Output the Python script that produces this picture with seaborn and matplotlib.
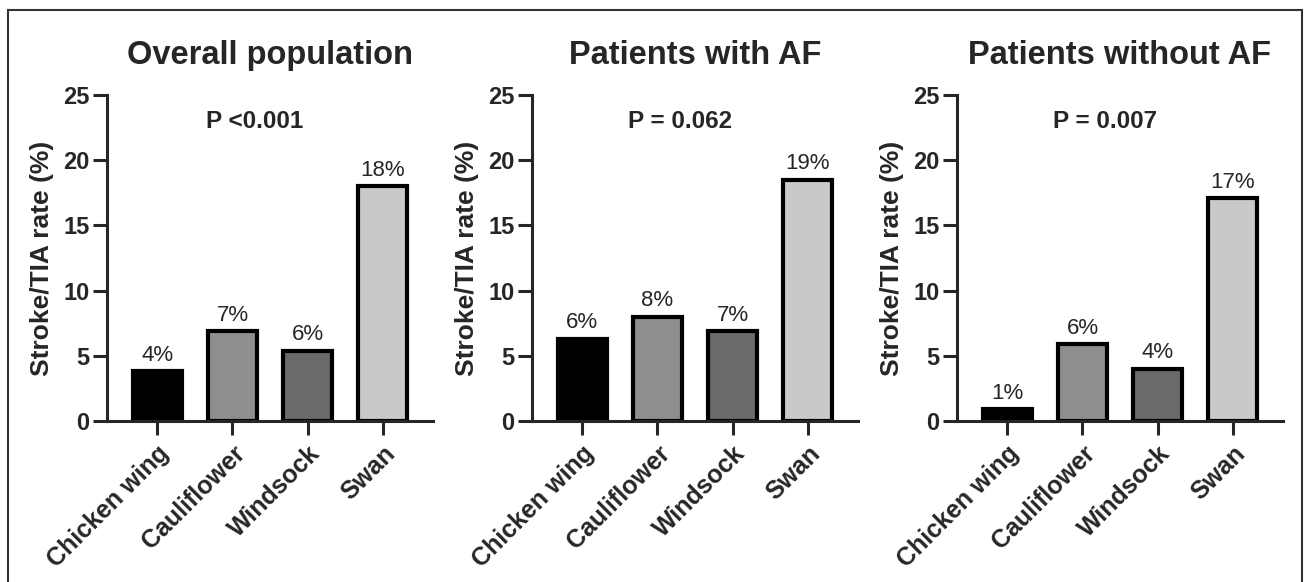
import numpy as np
import pandas as pd
import matplotlib
matplotlib.use("Agg")
import matplotlib.pyplot as plt
from matplotlib.patches import Rectangle
import seaborn as sns

# du lieu doc tu hinh
categories = ["Chicken wing", "Cauliflower", "Windsock", "Swan"]
titles = ["Overall population", "Patients with AF", "Patients without AF"]
p_texts = ["P <0.001", "P = 0.062", "P = 0.007"]
overall_rate = [3.8, 6.9, 5.4, 18.0]
af_rate = [6.3, 8.0, 6.9, 18.5]
no_af_rate = [0.9, 5.9, 4.0, 17.1]
overall_labels = ["4%", "7%", "6%", "18%"]
af_labels = ["6%", "8%", "7%", "19%"]
no_af_labels = ["1%", "6%", "4%", "17%"]
bar_colors = ["#000000", "#8e8e8e", "#6a6a6a", "#c9c9c9"]

sns.set_style("ticks")
plt.rcParams['font.family'] = ['Liberation Sans', 'DejaVu Sans']

fig = plt.figure(figsize=(13.05, 5.82), dpi=100)
W, H = 1305, 582
lefts = [107, 532, 957]

panels = [(overall_rate, overall_labels), (af_rate, af_labels), (no_af_rate, no_af_labels)]

for i, (rates, labels) in enumerate(panels):
    ax = fig.add_axes([lefts[i] / W, 1 - 421 / H, 326 / W, 326 / H])
    df = pd.DataFrame({"group": categories, "rate": rates})
    sns.barplot(data=df, x="group", y="rate", hue="group", palette=bar_colors,
                dodge=False, legend=False, width=0.65, ax=ax,
                edgecolor="black", linewidth=3.0)
    for j, (v, lab) in enumerate(zip(rates, labels)):
        ax.text(j, v + 0.8, lab, ha="center", va="baseline", fontsize=16)
    ax.text(1.3, 23.0, p_texts[i], ha="center", va="center", fontsize=17.5, fontweight="bold")

    ax.set_xlim(-0.67, 3.67)
    ax.set_ylim(0, 25)
    ax.set_yticks([0, 5, 10, 15, 20, 25])
    ax.set_title(titles[i], fontsize=23.5, fontweight="bold", pad=22)
    ax.set_ylabel("Stroke/TIA rate (%)", fontsize=19, fontweight="bold", labelpad=7)
    ax.set_xlabel("")
    sns.despine(ax=ax)
    for s in ["left", "bottom"]:
        ax.spines[s].set_linewidth(2.2)
    ax.tick_params(axis="y", length=10, width=2.2, labelsize=17, pad=2.5)
    ax.tick_params(axis="x", length=9.8, width=2.2, labelsize=18, pad=5)
    plt.setp(ax.get_yticklabels(), fontweight="bold")
    plt.setp(ax.get_xticklabels(), fontweight="bold", rotation=45, ha="right",
             rotation_mode="anchor")

# khung vien ngoai
fig.patches.append(Rectangle((8 / W, -0.1), (1302 - 8) / W, 1 - 10 / H + 0.1,
                             transform=fig.transFigure, fill=False,
                             linewidth=1.5, edgecolor="#333333"))

plt.savefig("out.png", dpi=100)
plt.close()
